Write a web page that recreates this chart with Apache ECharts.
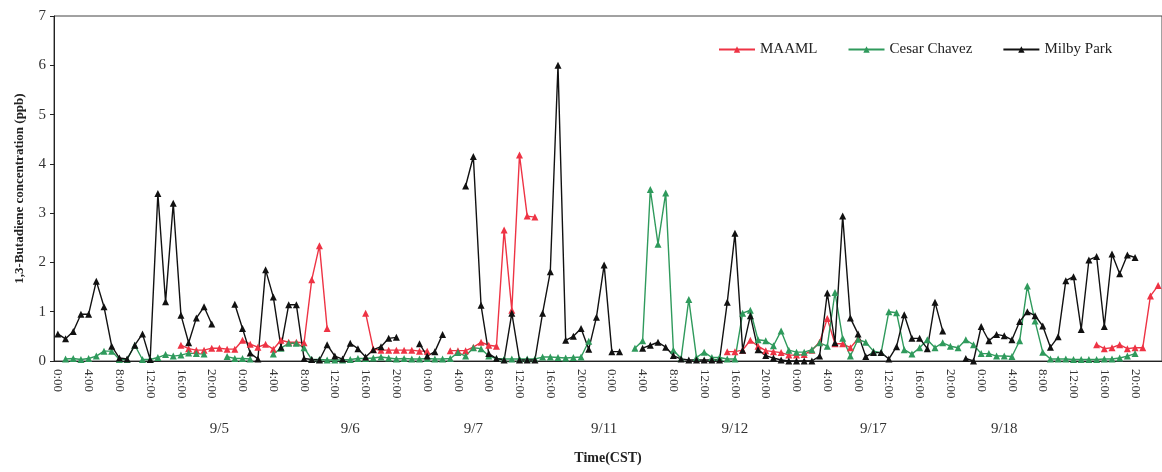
<!DOCTYPE html>
<html>
<head>
<meta charset="utf-8">
<script src="https://cdn.jsdelivr.net/npm/echarts@6/dist/echarts.min.js"></script>
<style>
  html, body { margin: 0; padding: 0; background: #fff; }
  #chart { width: 1162px; height: 472px; }
</style>
</head>
<body>
<div id="chart"></div>
<script>
// hourly samples, 6 blocks of 24 h
const hoursPerDay = 24;
const dayCount = 6;

// date labels under the hour labels, and the hour index they sit at
const dateLabels = ['9/5', '9/6', '9/7', '9/11', '9/12', '9/17', '9/18'];
const dateAt = [21, 38, 54, 71, 88, 106, 123];

const _ = null;

const maaml = [
  _, _, _, _, _, _, _, _, _, _, _, _, _, _, _, _,
  0.32, 0.25, 0.22, 0.22, 0.26, 0.26, 0.24, 0.24, 0.42, 0.34, 0.28, 0.34, 0.24, 0.42, 0.38, 0.38, 0.37, 1.65, 2.34, 0.66,
  _, _, _, _,
  0.97, 0.24, 0.22, 0.22, 0.22, 0.22, 0.22, 0.2, 0.2,
  _, _,
  0.21, 0.21, 0.21, 0.28, 0.38, 0.32, 0.3, 2.66, 1.03, 4.18, 2.94, 2.92,
  _, _, _, _, _, _, _, _, _, _, _, _, _, _, _, _, _, _, _, _, _, _, _, _,
  0.19, 0.19, 0.22, 0.42, 0.3, 0.21, 0.19, 0.17, 0.12, 0.12, 0.13, 0.22, 0.38, 0.86, 0.35, 0.35, 0.27, 0.45,
  _, _, _, _, _, _, _, _, _, _, _, _, _, _, _, _, _, _, _, _, _, _, _, _, _, _, _, _, _, _,
  0.33, 0.25, 0.27, 0.33, 0.25, 0.27, 0.27, 1.32, 1.53
];

const cesarChavez = [
  _, 0.04, 0.05, 0.03, 0.05, 0.1, 0.2, 0.2, 0.03, 0.03, 0.32, 0.03, 0.03, 0.07, 0.13, 0.1, 0.12, 0.16, 0.15, 0.14,
  _, _,
  0.09, 0.05, 0.05, 0.04,
  _, _,
  0.14, 0.26, 0.36, 0.36, 0.27, 0.03, 0.03, 0.02, 0.02, 0.02, 0.03, 0.05, 0.05, 0.06, 0.08, 0.06, 0.04, 0.05,
  0.04, 0.04, 0.05, 0.04, 0.04, 0.05, 0.17, 0.1, 0.27, 0.25, 0.1, 0.05, 0.04, 0.04, 0.04, 0.04, 0.04, 0.08,
  0.08, 0.07, 0.06, 0.07, 0.08, 0.4,
  _, _, _, _, _,
  0.26, 0.41, 3.48, 2.37, 3.41, 0.22, 0.05, 1.25, 0.07, 0.18, 0.07, 0.07, 0.04, 0.04, 0.97, 1.03, 0.43, 0.41,
  0.31, 0.61, 0.22, 0.18, 0.18, 0.23, 0.37, 0.3, 1.39, 0.46, 0.1, 0.44, 0.38, 0.2, 0.17, 1.0, 0.98, 0.23,
  0.14, 0.27, 0.43, 0.27, 0.37, 0.3, 0.27, 0.43, 0.33, 0.15, 0.15, 0.1, 0.1, 0.09, 0.41, 1.52, 0.81, 0.18,
  0.04, 0.04, 0.04, 0.03, 0.03, 0.03, 0.03, 0.04, 0.04, 0.06, 0.1, 0.15,
  _, _, _
];

const milbyPark = [
  0.55, 0.45, 0.6, 0.95, 0.95, 1.62, 1.1, 0.3, 0.06, 0.04, 0.32, 0.55, 0.03, 3.4, 1.2, 3.2, 0.93, 0.37, 0.87, 1.1, 0.75,
  _, _,
  1.15, 0.66, 0.16, 0.04, 1.85, 1.3, 0.28, 1.14, 1.14, 0.05, 0.03, 0.02, 0.33, 0.1, 0.04, 0.36, 0.25, 0.08,
  0.23, 0.29, 0.46, 0.48,
  _, _,
  0.35, 0.1, 0.19, 0.54,
  _, _,
  3.55, 4.15, 1.13, 0.15, 0.05, 0.02, 0.97, 0.02, 0.02, 0.02, 0.97, 1.81, 6.0, 0.42, 0.5, 0.66, 0.24, 0.89,
  1.95, 0.19, 0.19,
  _, _,
  0.26, 0.32, 0.38, 0.28, 0.11, 0.04, 0.02, 0.02, 0.02, 0.02, 0.02, 1.19, 2.59, 0.22, 0.92, 0.23, 0.11, 0.06,
  0.02, 0, 0, 0, 0, 0.1, 1.38, 0.37, 2.94, 0.87, 0.55, 0.09, 0.17, 0.17, 0.04, 0.29, 0.94, 0.46, 0.46, 0.25,
  1.19, 0.61,
  _, _,
  0.05, 0, 0.7, 0.41, 0.54, 0.51, 0.43, 0.8, 1.0, 0.92, 0.71, 0.28, 0.49, 1.63, 1.71, 0.64, 2.05, 2.12, 0.7,
  2.17, 1.77, 2.15, 2.1,
  _, _, _
];

// hour tick labels
const hours = [];
for (let d = 0; d < dayCount; d++) {
  for (let h = 0; h < hoursPerDay; h++) hours.push(h + ':00');
}
const dateRow = hours.map(() => '');
dateAt.forEach((idx, k) => { dateRow[idx] = dateLabels[k]; });

const serif = 'Liberation Serif';

const chart = echarts.init(document.getElementById('chart'), null, { renderer: 'canvas' });

const mkSeries = (name, data, color) => ({
  name: name,
  type: 'line',
  data: data,
  connectNulls: false,
  symbol: 'triangle',
  symbolSize: 7,
  showAllSymbol: true,
  animation: false,
  lineStyle: { color: color, width: 1.4 },
  itemStyle: { color: color }
});

chart.setOption({
  backgroundColor: '#fff',
  animation: false,
  grid: {
    left: 54, top: 16, width: 1112, height: 345,
    show: true, borderColor: '#444', borderWidth: 1
  },
  legend: {
    left: 713, top: 37,
    itemWidth: 36, itemHeight: 8, itemGap: 30,
    textStyle: { fontFamily: serif, fontSize: 15, color: '#222' },
    data: ['MAAML', 'Cesar Chavez', 'Milby Park']
  },
  xAxis: [
    {
      type: 'category',
      data: hours,
      boundaryGap: true,
      axisLine: { lineStyle: { color: '#222', width: 1 } },
      axisTick: { interval: 0, length: 4, lineStyle: { color: '#222' } },
      axisLabel: {
        interval: 3, rotate: -90, margin: 8,
        fontFamily: serif, fontSize: 13, color: '#333'
      },
      splitLine: { show: false },
      name: 'Time(CST)',
      nameLocation: 'middle',
      nameGap: 90,
      nameTextStyle: { fontFamily: serif, fontSize: 14, fontWeight: 'bold', color: '#222' }
    },
    {
      type: 'category',
      data: dateRow,
      position: 'bottom',
      offset: 53,
      boundaryGap: true,
      axisLine: { show: false },
      axisTick: { show: false },
      axisLabel: { interval: 0, fontFamily: serif, fontSize: 15, color: '#333' }
    }
  ],
  yAxis: {
    type: 'value',
    min: 0, max: 7, interval: 1,
    axisLine: { show: true, lineStyle: { color: '#222' } },
    axisTick: { show: true, length: 4, lineStyle: { color: '#222' } },
    splitLine: { show: false },
    axisLabel: { fontFamily: serif, fontSize: 15, color: '#333', margin: 8 },
    name: '1,3-Butadiene concentration (ppb)',
    nameLocation: 'middle',
    nameGap: 28,
    nameTextStyle: { fontFamily: serif, fontSize: 13, fontWeight: 'bold', color: '#222' }
  },
  series: [
    mkSeries('MAAML', maaml, '#ee3344'),
    mkSeries('Cesar Chavez', cesarChavez, '#2f9a5c'),
    mkSeries('Milby Park', milbyPark, '#111111')
  ]
});
</script>
</body>
</html>
